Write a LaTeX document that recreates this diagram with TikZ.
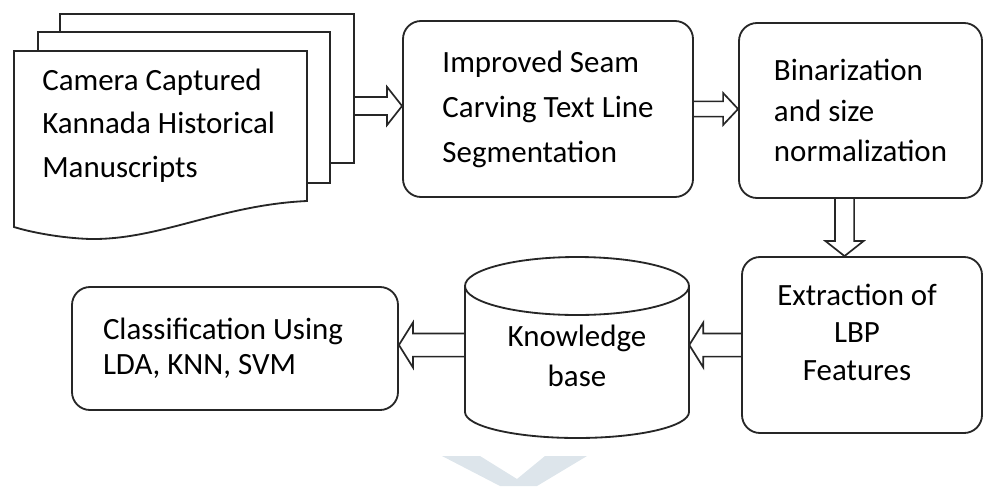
\documentclass[tikz,border=0pt]{standalone}
\usepackage{fontspec}
\setmainfont{Carlito}
\usetikzlibrary{calc}

\definecolor{markblue}{RGB}{221,229,235}

\tikzset{
  stage/.style={draw=black!85, line width=1.3pt, rounded corners=0.45cm, fill=white,
    align=left, font=\fontsize{22}{32}\selectfont},
  page/.style={draw=black!85, line width=1.3pt, fill=white},
  drum/.style={draw=black!85, line width=1.3pt},
  % hollow block arrow: shaft half width, head half width, head length
  flow/.style n args={3}{draw=black!85, line width=1.2pt, to path={
    ($(\tikztostart)!#1!90:(\tikztotarget)$)
    -- ($(\tikztotarget)!#3!(\tikztostart)!#1!90:(\tikztotarget)$)
    -- ($(\tikztotarget)!#3!(\tikztostart)!#2!90:(\tikztotarget)$)
    -- (\tikztotarget)
    -- ($(\tikztotarget)!#3!(\tikztostart)!#2!-90:(\tikztotarget)$)
    -- ($(\tikztotarget)!#3!(\tikztostart)!#1!-90:(\tikztotarget)$)
    -- ($(\tikztostart)!#1!-90:(\tikztotarget)$)}},
}

\begin{document}
\begin{tikzpicture}
  \useasboundingbox (0,0) rectangle (24.6,-12.15);

  % stack of manuscript pages
  \draw[page] (1.5,-0.35) rectangle (8.85,-4.075);
  \draw[page] (0.95,-0.8) rectangle (8.25,-4.575);
  \draw[page] (0.35,-1.275) -- (7.675,-1.275) -- (7.675,-5.025)
    .. controls (5.5,-5.125) and (4.0,-6.0) .. (2.25,-5.975)
    .. controls (1.5,-5.95) and (0.75,-5.8) .. (0.35,-5.675) -- cycle;
  \node[anchor=west, inner sep=0, align=left, font=\fontsize{22}{31}\selectfont] (docs)
    at (1.05,-3.14) {Camera Captured\\Kannada Historical\\Manuscripts};
  \coordinate (stack) at (8.85,-2.65);

  \node[stage, minimum width=7.25cm, minimum height=4.4cm] (seam) at (13.7,-2.725)
    {Improved Seam\\Carving Text Line\\Segmentation};
  \node[stage, minimum width=6.075cm, minimum height=4.375cm,
    font=\fontsize{22}{29}\selectfont] (binar) at (21.5125,-2.7625)
    {Binarization\\and size\\normalization};
  \node[stage, minimum width=6cm, minimum height=4.4cm] (feat) at (21.55,-8.625) {};
  \node[align=center, inner sep=0, font=\fontsize{22}{27}\selectfont] (featlbl)
    at (21.425,-8.31) {Extraction of\\LBP\\Features};

  % knowledge base drum
  \draw[drum] (11.625,-7.15) -- (11.625,-10.3)
    arc[start angle=180, end angle=360, x radius=2.8cm, y radius=0.65cm] -- (17.225,-7.15);
  \draw[drum] (14.425,-7.15) ellipse[x radius=2.8cm, y radius=0.725cm];
  \node[minimum width=5.6cm, align=center, font=\fontsize{22}{28}\selectfont] (kb)
    at (14.425,-8.9) {Knowledge\\base};

  \node[stage, minimum width=8.15cm, minimum height=3.075cm, text width=6.6cm,
    inner xsep=0.775cm, align=flush left, font=\fontsize{22}{25}\selectfont] (cls)
    at (5.875,-8.7125) {Classification Using\\LDA, KNN, SVM};

  % hollow arrows between the stages
  \coordinate (drop) at ([xshift=-0.4cm]binar.south);
  \coordinate (land) at (drop |- feat.north);
  \draw[flow={0.225cm}{0.475cm}{0.375cm}] (stack) to (stack -| seam.west);
  \draw[flow={0.19cm}{0.4cm}{0.375cm}] (seam.east) to (seam.east -| binar.west);
  \draw[flow={0.24cm}{0.475cm}{0.375cm}] (drop) to (land);
  \draw[flow={0.29cm}{0.56cm}{0.35cm}] (feat.west) to (feat.west -| kb.east);
  \draw[flow={0.29cm}{0.56cm}{0.35cm}] (kb.west |- feat.west) to (feat.west -| cls.east);

  % faint mark at the bottom
  \fill[markblue] (11.05,-11.4) -- (12.0,-11.4) -- (12.925,-11.975) -- (13.625,-11.4)
    -- (14.675,-11.4) -- (13.425,-12.15) -- (12.5,-12.15) -- cycle;
\end{tikzpicture}
\end{document}
